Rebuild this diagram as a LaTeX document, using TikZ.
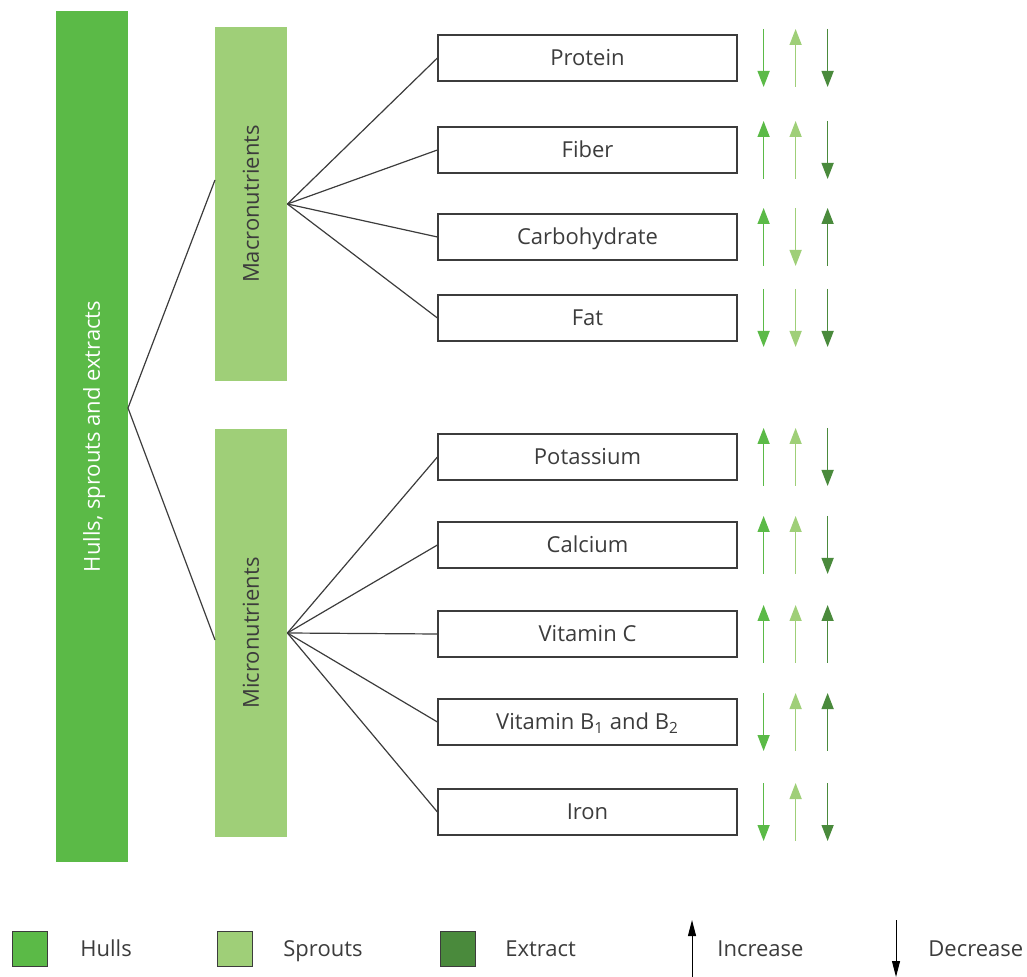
\documentclass[tikz,border=0pt]{standalone}
\usepackage{fontspec}
\setmainfont{Open Sans}
\usetikzlibrary{calc, positioning}
\usetikzlibrary{arrows.meta}

\definecolor{hullsgreen}{RGB}{91,186,71}
\definecolor{sproutsgreen}{RGB}{159,207,120}
\definecolor{extractgreen}{RGB}{74,138,60}
\definecolor{textgray}{RGB}{60,60,60}
\definecolor{linegray}{RGB}{60,60,60}

\tikzset{
  bar/.style={inner sep=0pt,minimum height=36pt,text=textgray,
    text height=7.85pt,text depth=0pt,rotate=90},
  nutrient/.style={draw=linegray,line width=0.6pt,minimum width=149.5pt,
    minimum height=23pt,inner sep=0pt,text=textgray,
    text height=7.85pt,text depth=0pt},
  keybox/.style={draw=linegray,line width=0.5pt,minimum width=17.5pt,
    minimum height=17.5pt,inner sep=0pt},
  keytext/.style={anchor=west,inner sep=0pt,text=textgray,
    text height=7.85pt,text depth=0pt},
  incr/.style={{Triangle[length=8pt,width=6pt]}-},
  decr/.style={-{Triangle[length=8pt,width=6pt]}},
  hullsarr/.style={line width=0.75pt,hullsgreen},
  sproutsarr/.style={line width=0.75pt,sproutsgreen},
  extractarr/.style={line width=0.75pt,extractgreen},
}

\begin{document}
\begin{tikzpicture}[x=0.5pt,y=-0.5pt,font=\fontsize{11pt}{13pt}\selectfont]
\useasboundingbox (0,0) rectangle (1027,977);
\coordinate (HullsFork) at (128,408);
\coordinate (MacroIn) at (215,180);
\coordinate (MicroIn) at (215,640);

\node[bar,fill=hullsgreen,minimum width=425.5pt,text=white]
    (hulls) at (92,436.5) {Hulls, sprouts and extracts};
\node[bar,fill=sproutsgreen,minimum width=177pt]
    (macro) at (251,204) {Macronutrients};
\node[bar,fill=sproutsgreen,minimum width=204pt]
    (micro) at (251,633) {Micronutrients};

\node[nutrient] (protein) at (587.5,58) {Protein};
\node[nutrient] (fiber) at (587.5,150) {Fiber};
\node[nutrient] (carb) at (587.5,237) {Carbohydrate};
\node[nutrient] (fat) at (587.5,318) {Fat};
\node[nutrient] (potassium) at (587.5,457) {Potassium};
\node[nutrient] (calcium) at (587.5,545) {Calcium};
\node[nutrient] (vitc) at (587.5,634) {Vitamin C};
\node[nutrient] (vitb) at (587.5,722) {Vitamin B\textsubscript{1} and B\textsubscript{2}};
\node[nutrient] (iron) at (587.5,812) {Iron};

\draw[linegray,line width=0.6pt] (MacroIn) -- (HullsFork) -- (MicroIn);
\foreach \item in {protein,fiber,carb,fat}
  \draw[linegray,line width=0.6pt] (macro.south) -- (\item.west);
\foreach \item in {potassium,calcium,vitc,vitb,iron}
  \draw[linegray,line width=0.6pt] (micro.south) -- (\item.west);

\foreach \item/\a/\b/\c in {protein/decr/incr/decr, fiber/incr/incr/decr,
    carb/incr/decr/incr, fat/decr/decr/decr, potassium/incr/incr/decr,
    calcium/incr/incr/decr, vitc/incr/incr/incr, vitb/decr/incr/incr,
    iron/decr/incr/decr}{
  \draw[hullsarr,\a] ($(\item.east)+(26,-29)$) -- ($(\item.east)+(26,29)$);
  \draw[sproutsarr,\b] ($(\item.east)+(58,-29)$) -- ($(\item.east)+(58,29)$);
  \draw[extractarr,\c] ($(\item.east)+(90,-29)$) -- ($(\item.east)+(90,29)$);
}

% legend
\node[keybox,fill=hullsgreen] (hullsKey) at (29.5,948.5) {};
\node[keybox,fill=sproutsgreen] (sproutsKey) at (234.5,948.5) {};
\node[keybox,fill=extractgreen] (extractKey) at (457.5,948.5) {};
\node[keytext] (hullsLabel) at (80,948.5) {Hulls};
\node[keytext] (sproutsLabel) at (283,948.5) {Sprouts};
\node[keytext] (extractLabel) at (505,948.5) {Extract};
\coordinate (IncTop) at (692,920);
\coordinate (IncBottom) at (692,977);
\coordinate (DecTop) at (896,920);
\coordinate (DecBottom) at (896,977);
\draw[line width=0.5pt,{Triangle[length=8pt,width=4pt]}-] (IncTop) -- (IncBottom);
\draw[line width=0.5pt,-{Triangle[length=8pt,width=4pt]}] (DecTop) -- (DecBottom);
\node[keytext] (incLabel) at (717,948.5) {Increase};
\node[keytext] (decLabel) at (928,948.5) {Decrease};
\end{tikzpicture}
\end{document}
